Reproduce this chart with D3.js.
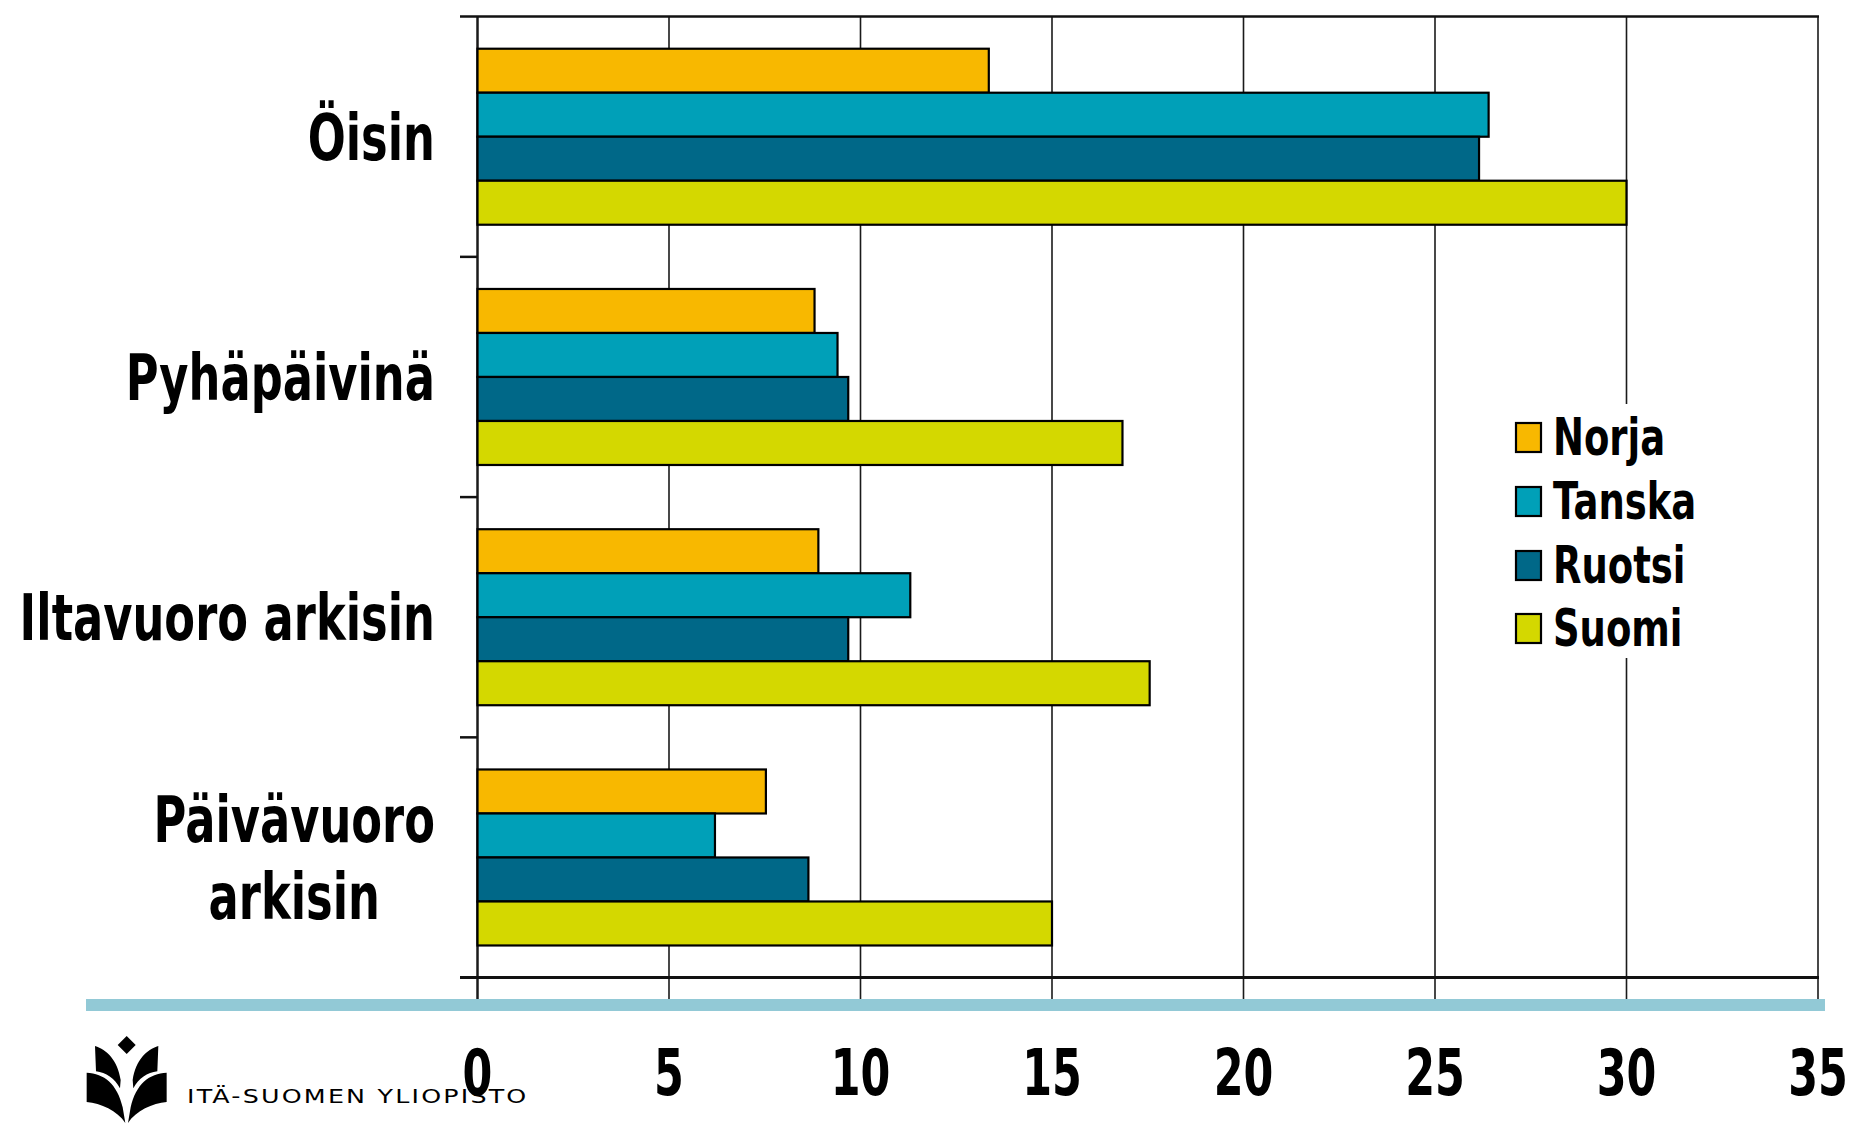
<!DOCTYPE html>
<html>
<head>
<meta charset="utf-8">
<script src="https://cdn.jsdelivr.net/npm/d3@7"></script>
<style>
  html, body { margin: 0; padding: 0; background: #fff; }
  svg { display: block; }
</style>
</head>
<body>
<svg id="chart" width="1858" height="1123"></svg>
<script>
// ---- data ----
const categories = ["Öisin", "Pyhäpäivinä", "Iltavuoro arkisin", "Päivävuoro arkisin"];
const categoryLines = [["Öisin"], ["Pyhäpäivinä"], ["Iltavuoro arkisin"], ["Päivävuoro", "arkisin"]];
const seriesNames = ["Norja", "Tanska", "Ruotsi", "Suomi"];
const norja  = [13.35, 8.80, 8.90, 7.53];
const tanska = [26.40, 9.40, 11.30, 6.20];
const ruotsi = [26.15, 9.68, 9.68, 8.64];
const suomi  = [30.00, 16.84, 17.55, 15.00];
const xTicks = [0, 5, 10, 15, 20, 25, 30, 35];
const colors = ["#F8B800", "#00A0B8", "#006888", "#D4D800"];

const seriesValues = [norja, tanska, ruotsi, suomi];

(function () {
const svg = d3.select("#chart");
const pLeft = 477.5, pRight = 1818, pTop = 16.6, pBottom = 977.6;
const bandBottom = 999;

const x = d3.scaleLinear().domain([0, 35]).range([pLeft, pRight]);
const y0 = d3.scaleBand().domain(categories).range([pTop, pBottom]).paddingInner(0).paddingOuter(0);
const y1 = d3.scaleBand().domain(seriesNames).range([0, y0.bandwidth()]).paddingInner(0).paddingOuter(0.73);

// gridlines (extend down to the blue band)
svg.append("g").selectAll("line").data(xTicks).join("line")
  .attr("x1", d => x(d)).attr("x2", d => x(d))
  .attr("y1", pTop).attr("y2", bandBottom + 2)
  .attr("stroke", "#1a1a1a").attr("stroke-width", d => d === 0 ? 2.5 : 1.6);

// category tick marks (top border line included)
const catTicks = [pTop].concat(categories.map(c => y0(c) + y0.bandwidth()));
svg.append("g").selectAll("line").data(catTicks).join("line")
  .attr("x1", 460).attr("x2", (d, i) => (i === 0 ? pRight + 1 : pLeft))
  .attr("y1", d => d).attr("y2", d => d)
  .attr("stroke", "#111").attr("stroke-width", 2.5);

// bars
const groups = svg.append("g").selectAll("g").data(categories).join("g")
  .attr("transform", c => `translate(0,${y0(c)})`);
groups.selectAll("rect")
  .data((c, ci) => seriesNames.map((s, si) => ({ s, si, v: seriesValues[si][ci] })))
  .join("rect")
  .attr("x", x(0))
  .attr("y", d => y1(d.s))
  .attr("width", d => x(d.v) - x(0))
  .attr("height", y1.bandwidth())
  .attr("fill", d => colors[d.si])
  .attr("stroke", "#000").attr("stroke-width", 2.2);

// bottom axis line
svg.append("line").attr("x1", 460).attr("x2", pRight + 1)
  .attr("y1", pBottom).attr("y2", pBottom)
  .attr("stroke", "#111").attr("stroke-width", 3);

// blue band
svg.append("rect").attr("x", 86).attr("y", bandBottom).attr("width", 1739).attr("height", 12)
  .attr("fill", "#92C9D6");

// category labels (multi-line labels are centred as a block, block right-aligned)
const labelFont = "'DejaVu Sans', Verdana, sans-serif";
const labelSX = 0.70, labelRight = 435;
categories.forEach((c, i) => {
  const lines = categoryLines[i];
  const cy = y0(c) + y0.bandwidth() / 2;
  const lh = 77;
  const g = svg.append("g");
  const texts = lines.map((ln, j) => {
    const base = cy + 23 + (j - (lines.length - 1) / 2) * lh;
    return g.append("text")
      .attr("data-base", base)
      .attr("text-anchor", "middle")
      .attr("font-family", labelFont).attr("font-weight", "bold")
      .attr("font-size", 64).attr("fill", "#000")
      .text(ln);
  });
  const maxW = d3.max(texts, t => t.node().getComputedTextLength()) * labelSX;
  const cx = labelRight - maxW / 2;
  texts.forEach(t => t.attr("transform", `translate(${cx},${t.attr("data-base")}) scale(${labelSX},1)`));
});

// x tick labels
svg.append("g").selectAll("text").data(xTicks).join("text")
  .attr("transform", d => `translate(${x(d)},1095) scale(0.67,1)`)
  .attr("text-anchor", "middle")
  .attr("font-family", labelFont).attr("font-weight", "bold")
  .attr("font-size", 64).attr("fill", "#000")
  .text(d => d);

// legend
svg.append("rect").attr("x", 1500).attr("y", 404).attr("width", 220).attr("height", 254).attr("fill", "#fff");
const legY = [423, 487, 551, 614];
seriesNames.forEach((s, i) => {
  svg.append("rect").attr("x", 1516).attr("y", legY[i]).attr("width", 25).attr("height", 29)
    .attr("fill", colors[i]).attr("stroke", "#000").attr("stroke-width", 2.2);
  svg.append("text")
    .attr("transform", `translate(1553,${legY[i] + 32}) scale(0.725,1)`)
    .attr("font-family", labelFont).attr("font-weight", "bold")
    .attr("font-size", 51).attr("fill", "#000")
    .text(s);
});

// logo
const logo = svg.append("g").attr("transform", "translate(80,1030) scale(0.3333)").attr("fill", "#000");
logo.append("path").attr("d", "M140,18 L167,45 L140,72 L113,45 Z");
const leafL = "M45,48 C80,60 112,88 122,150 L120,175 C104,145 78,128 48,124 Z";
const pageL = "M20,128 C72,130 112,162 128,232 L136,279 C112,242 62,220 20,216 Z";
logo.append("path").attr("d", leafL);
logo.append("path").attr("d", pageL);
logo.append("g").attr("transform", "translate(280,0) scale(-1,1)")
  .call(g => { g.append("path").attr("d", leafL); g.append("path").attr("d", pageL); });
svg.append("text").attr("transform", "translate(187,1103) scale(1.3,1)")
  .attr("font-family", "'DejaVu Sans', Verdana, sans-serif")
  .attr("font-size", 19.5).attr("fill", "#000")
  .attr("textLength", 261).attr("lengthAdjust", "spacing")
  .text("ITÄ-SUOMEN YLIOPISTO");
})();
</script>
</body>
</html>
